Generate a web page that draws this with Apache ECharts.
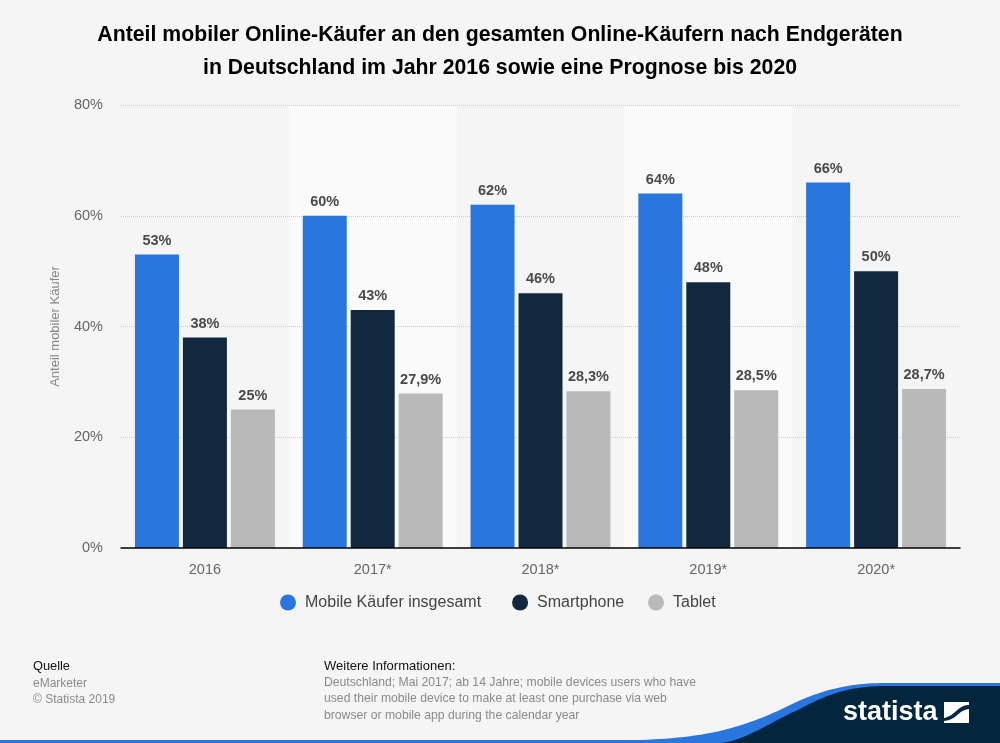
<!doctype html>
<html>
<head>
<meta charset="utf-8">
<title>Anteil mobiler Online-Käufer</title>
<script src="https://cdn.jsdelivr.net/npm/echarts@6/dist/echarts.min.js"></script>
<style>
html,body{margin:0;padding:0;background:#f5f5f5}
#chart{width:1000px;height:743px}
</style>
</head>
<body>
<div id="chart"></div>
<script>
var years = ['2016', '2017*', '2018*', '2019*', '2020*'];
var mobileTotal = [53, 60, 62, 64, 66];
var smartphone = [38, 43, 46, 48, 50];
var tablet = [25, 27.9, 28.3, 28.5, 28.7];
var titleText = 'Anteil mobiler Online-Käufer an den gesamten Online-Käufern nach Endgeräten\nin Deutschland im Jahr 2016 sowie eine Prognose bis 2020';
var sourceLines = 'eMarketer\n© Statista 2019';
var infoLines = 'Deutschland; Mai 2017; ab 14 Jahre; mobile devices users who have\nused their mobile device to make at least one purchase via web\nbrowser or mobile app during the calendar year';

var font = '"Liberation Sans", Arial, sans-serif';

function pct(p) {
	return String(p.value).replace('.', ',') + '%';
}

function barSeries(name, data, color) {
	return {
		name: name,
		type: 'bar',
		data: data,
		barWidth: 44,
		barGap: '9%',
		itemStyle: {color: color},
		label: {
			show: true,
			position: 'top',
			distance: 6.5,
			formatter: pct,
			color: '#4a4a4a',
			fontFamily: font,
			fontSize: 14.5,
			fontWeight: 'bold'
		}
	};
}

function legendAt(left, names) {
	return {
		left: left,
		top: 594.5,
		padding: 0,
		itemWidth: 16,
		itemHeight: 16,
		itemGap: 31,
		icon: 'circle',
		data: names,
		textStyle: {color: '#444', fontFamily: font, fontSize: 16, padding: [5, 0, 0, 4]}
	};
}

// graphic has no path type, so the footer curves are sampled to polygon points
function curve(points, c1, c2, end) {
	var s = points[points.length - 1];
	for (var i = 1; i <= 24; i++) {
		var t = i / 24, u = 1 - t;
		points.push([
			u*u*u*s[0] + 3*u*u*t*c1[0] + 3*u*t*t*c2[0] + t*t*t*end[0],
			u*u*u*s[1] + 3*u*u*t*c1[1] + 3*u*t*t*c2[1] + t*t*t*end[1]
		]);
	}
	return points;
}

function shape(points, color) {
	return {type: 'polygon', shape: {points: points}, style: {fill: color}};
}

var bluePts = [[0, 740], [640, 740]];
curve(bluePts, [700, 738], [740, 730], [790, 705]);
curve(bluePts, [820, 690], [850, 683], [885, 683]);
bluePts.push([1000, 683], [1000, 743], [0, 743]);

var navyPts = [[720, 743]];
curve(navyPts, [745, 741], [770, 722], [800, 709]);
curve(navyPts, [825, 695], [850, 686], [885, 686]);
navyPts.push([1000, 686], [1000, 743]);

var logoTop = [[944, 702], [969, 702], [969, 705]];
curve(logoTop, [958, 705], [955, 716], [944, 718]);
var logoBottom = [[969, 709], [969, 723], [944, 723], [944, 721]];
curve(logoBottom, [957, 720], [958, 710], [969, 709]);

var chart = echarts.init(document.getElementById('chart'));
chart.setOption({
	animation: false,
	backgroundColor: '#f5f5f5',
	title: {
		text: titleText,
		left: 500,
		top: 19,
		padding: 0,
		textAlign: 'center',
		textStyle: {color: '#000', fontFamily: font, fontSize: 21.25, fontWeight: 'bold', lineHeight: 33}
	},
	grid: {left: 121, right: 40, top: 105, height: 443},
	xAxis: [
		// bands stay behind the grid lines, the axis line sits on top of the bars
		{
			type: 'category',
			z: 0,
			data: years,
			axisTick: {show: false},
			axisLine: {show: false},
			axisLabel: {show: false},
			splitArea: {show: true, areaStyle: {color: ['rgba(255,255,255,0)', '#fafafa']}}
		},
		{
			type: 'category',
			position: 'bottom',
			z: 3,
			data: years,
			axisTick: {show: false},
			axisLine: {lineStyle: {color: '#000', width: 1.5}},
			axisLabel: {color: '#666', fontFamily: font, fontSize: 14.5, margin: 14}
		}
	],
	yAxis: {
		type: 'value',
		z: 1,
		min: 0,
		max: 80,
		interval: 20,
		name: 'Anteil mobiler Käufer',
		nameLocation: 'middle',
		nameGap: 59,
		nameTextStyle: {color: '#888', fontFamily: font, fontSize: 13},
		axisLine: {show: false},
		axisTick: {show: false},
		axisLabel: {color: '#666', fontFamily: font, fontSize: 14.5, margin: 18, padding: [3, 0, 0, 0], formatter: '{value}%'},
		splitLine: {showMinLine: false, lineStyle: {color: '#ccc', type: 'dotted', width: 1}}
	},
	legend: [
		legendAt(280, ['Mobile Käufer insgesamt', 'Smartphone']),
		legendAt(648, ['Tablet'])
	],
	series: [
		barSeries('Mobile Käufer insgesamt', mobileTotal, '#2976de'),
		barSeries('Smartphone', smartphone, '#11283f'),
		barSeries('Tablet', tablet, '#b9b9b9')
	],
	graphic: [
		{type: 'text', left: 33, top: 660, style: {text: 'Quelle', fill: '#111', font: '12.8px ' + font}},
		{type: 'text', left: 33, top: 675, style: {text: sourceLines, fill: '#8a8a8a', font: '12px ' + font, lineHeight: 16.5}},
		{type: 'text', left: 324, top: 660, style: {text: 'Weitere Informationen:', fill: '#111', font: '13px ' + font}},
		{type: 'text', left: 324, top: 674, style: {text: infoLines, fill: '#8a8a8a', font: '12.2px ' + font, lineHeight: 16.5}},
		shape(bluePts, '#2976de'),
		shape(navyPts, '#03263f'),
		{type: 'text', left: 843, top: 699, style: {text: 'statista', fill: '#fff', font: 'bold 27px ' + font}},
		shape(logoTop, '#fff'),
		shape(logoBottom, '#fff')
	]
});
</script>
</body>
</html>
